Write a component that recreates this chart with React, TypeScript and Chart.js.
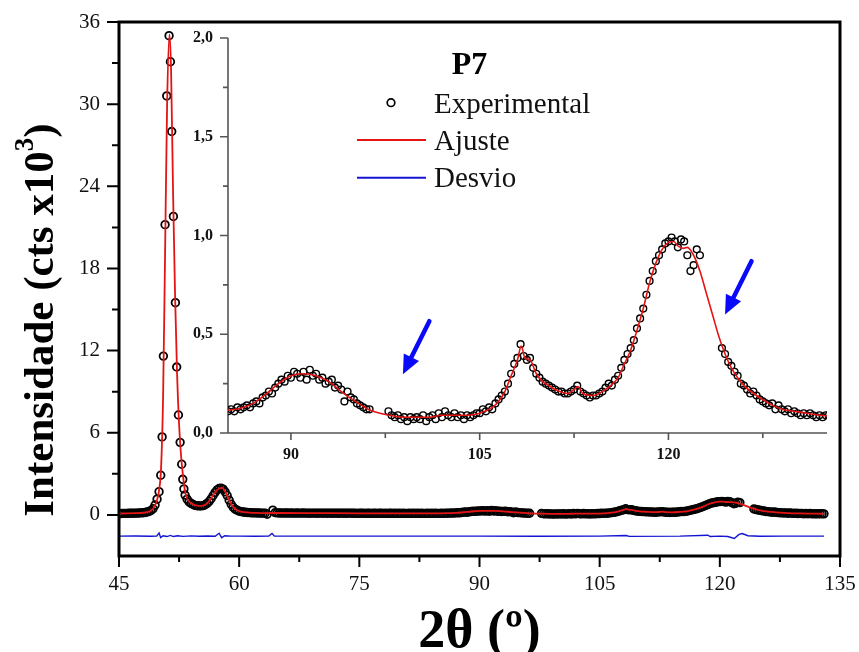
import React, { useEffect, useRef } from 'react';
import { Chart, registerables } from 'chart.js';
Chart.register(...registerables);

const FONT = '"Liberation Serif", "Times New Roman", serif';
const RED = 'rgb(228,20,20)';
const BLUE = 'rgb(20,20,210)';
const ARROW_BLUE = 'rgb(10,10,250)';

// Experimental points: 2θ (deg) and intensity (10^3 cts)
const expX = [
  45, 45.25, 45.5, 45.75, 46, 46.25, 46.5, 46.75, 47, 47.25,
  47.5, 47.75, 48, 48.25, 48.5, 48.75, 49, 49.25, 49.5, 49.75,
  50.0, 50.21, 50.38, 50.54, 50.75, 50.96, 51.25, 51.42, 51.58, 51.79,
  52.04, 52.2, 52.42, 52.63, 52.83, 52.96, 53.1, 53.25, 53.5, 53.75,
  54, 54.25, 54.5, 54.75, 55, 55.25, 55.5, 55.75, 56, 56.25,
  56.5, 56.75, 57, 57.25, 57.5, 57.75, 58, 58.25, 58.5, 58.75,
  59, 59.25, 59.5, 59.75, 60, 60.25, 60.5, 60.75, 61, 61.25,
  61.5, 61.75, 62, 62.25, 62.5, 62.75, 63, 63.25, 63.5, 64.2,
  64.5, 64.75, 65, 65.25, 65.5, 65.75, 66, 66.25, 66.5, 66.75,
  67, 67.25, 67.5, 67.75, 68, 68.25, 68.5, 68.75, 69, 69.25,
  69.5, 69.75, 70, 70.25, 70.5, 70.75, 71, 71.25, 71.5, 71.75,
  72, 72.25, 72.5, 72.75, 73, 73.25, 73.5, 73.75, 74, 74.25,
  74.5, 74.75, 75, 75.25, 75.5, 75.75, 76, 76.25, 76.5, 76.75,
  77, 77.25, 77.5, 77.75, 78, 78.25, 78.5, 78.75, 79, 79.25,
  79.5, 79.75, 80, 80.25, 80.5, 80.75, 81, 81.25, 81.5, 81.75,
  82, 82.25, 82.5, 82.75, 83, 83.25, 83.5, 83.75, 84, 84.25,
  84.5, 84.75, 85, 85.25, 85.5, 85.75, 86, 86.25, 86.5, 86.75,
  87, 87.25, 87.5, 87.75, 88, 88.25, 88.5, 88.75, 89, 89.25,
  89.5, 89.75, 90, 90.25, 90.5, 90.75, 91, 91.25, 91.5, 91.75,
  92, 92.25, 92.5, 92.75, 93, 93.25, 93.5, 93.75, 94, 94.25,
  94.5, 94.75, 95, 95.25, 95.5, 95.75, 96, 96.25, 97.75, 98,
  98.25, 98.5, 98.75, 99, 99.25, 99.5, 99.75, 100, 100.25, 100.5,
  100.75, 101, 101.25, 101.5, 101.75, 102, 102.25, 102.5, 102.75, 103,
  103.25, 103.5, 103.75, 104, 104.25, 104.5, 104.75, 105, 105.25, 105.5,
  105.75, 106, 106.25, 106.5, 106.75, 107, 107.25, 107.5, 107.75, 108,
  108.25, 108.5, 108.75, 109, 109.25, 109.5, 109.75, 110, 110.25, 110.5,
  110.75, 111, 111.25, 111.5, 111.75, 112, 112.25, 112.5, 112.75, 113,
  113.25, 113.5, 113.75, 114, 114.25, 114.5, 114.75, 115, 115.25, 115.5,
  115.75, 116, 116.25, 116.5, 116.75, 117, 117.25, 117.5, 117.75, 118,
  118.25, 118.5, 118.75, 119, 119.25, 119.5, 119.75, 120, 120.25, 120.5,
  120.75, 121, 121.25, 121.5, 121.75, 122, 122.25, 122.5, 124.25, 124.5,
  124.75, 125, 125.25, 125.5, 125.75, 126, 126.25, 126.5, 126.75, 127,
  127.25, 127.5, 127.75, 128, 128.25, 128.5, 128.75, 129, 129.25, 129.5,
  129.75, 130, 130.25, 130.5, 130.75, 131, 131.25, 131.5, 131.75, 132,
  132.25, 132.5, 132.75, 133,
];
const expY = [
  0.10, 0.10, 0.11, 0.11, 0.11, 0.12, 0.12, 0.12, 0.13, 0.13,
  0.14, 0.15, 0.16, 0.18, 0.21, 0.25, 0.32, 0.45, 0.72, 1.15,
  1.7, 2.9, 5.7, 11.6, 21.2, 30.6, 35.0, 33.1, 28.0, 21.8,
  15.5, 10.8, 7.3, 5.3, 3.7, 2.6, 1.9, 1.45, 1.15, 0.95,
  0.84, 0.76, 0.70, 0.67, 0.66, 0.66, 0.68, 0.74, 0.84, 0.98,
  1.18, 1.42, 1.65, 1.83, 1.93, 1.95, 1.88, 1.68, 1.42, 1.08,
  0.78, 0.56, 0.42, 0.34, 0.28, 0.24, 0.21, 0.19, 0.18, 0.17,
  0.16, 0.15, 0.15, 0.14, 0.14, 0.13, 0.13, 0.12, 0.05, 0.35,
  0.17, 0.15, 0.14, 0.14, 0.13, 0.14, 0.14, 0.13, 0.14, 0.13,
  0.13, 0.14, 0.13, 0.13, 0.14, 0.13, 0.13, 0.12, 0.13, 0.13,
  0.13, 0.12, 0.13, 0.13, 0.12, 0.13, 0.12, 0.13, 0.12, 0.12,
  0.13, 0.12, 0.12, 0.13, 0.12, 0.12, 0.12, 0.13, 0.12, 0.12,
  0.12, 0.11, 0.12, 0.12, 0.12, 0.11, 0.12, 0.12, 0.11, 0.12,
  0.12, 0.11, 0.12, 0.12, 0.11, 0.12, 0.11, 0.12, 0.12, 0.11,
  0.12, 0.11, 0.12, 0.11, 0.12, 0.11, 0.11, 0.12, 0.11, 0.12,
  0.11, 0.12, 0.11, 0.12, 0.11, 0.11, 0.12, 0.11, 0.12, 0.11,
  0.12, 0.11, 0.11, 0.12, 0.11, 0.13, 0.12, 0.13, 0.14, 0.13,
  0.15, 0.16, 0.15, 0.18, 0.19, 0.21, 0.20, 0.23, 0.25, 0.27,
  0.26, 0.29, 0.28, 0.31, 0.30, 0.28, 0.31, 0.27, 0.32, 0.29,
  0.30, 0.27, 0.28, 0.25, 0.26, 0.27, 0.23, 0.24, 0.22, 0.16,
  0.21, 0.18, 0.17, 0.15, 0.14, 0.13, 0.12, 0.12, 0.11, 0.09,
  0.08, 0.09, 0.07, 0.08, 0.06, 0.08, 0.07, 0.08, 0.07, 0.09,
  0.06, 0.08, 0.09, 0.07, 0.10, 0.08, 0.11, 0.09, 0.08, 0.10,
  0.08, 0.09, 0.07, 0.09, 0.08, 0.09, 0.10, 0.10, 0.12, 0.11,
  0.13, 0.12, 0.15, 0.17, 0.19, 0.21, 0.25, 0.30, 0.35, 0.38,
  0.45, 0.39, 0.37, 0.38, 0.33, 0.30, 0.28, 0.26, 0.25, 0.24,
  0.23, 0.22, 0.21, 0.21, 0.20, 0.20, 0.21, 0.22, 0.24, 0.21,
  0.20, 0.19, 0.18, 0.19, 0.19, 0.20, 0.21, 0.23, 0.25, 0.24,
  0.27, 0.29, 0.33, 0.37, 0.40, 0.43, 0.47, 0.53, 0.58, 0.63,
  0.70, 0.77, 0.82, 0.87, 0.90, 0.93, 0.96, 0.97, 0.99, 0.97,
  0.94, 0.98, 0.97, 0.90, 0.82, 0.85, 0.93, 0.90, 0.43, 0.40,
  0.36, 0.34, 0.31, 0.29, 0.25, 0.24, 0.22, 0.20, 0.21, 0.19,
  0.17, 0.16, 0.15, 0.14, 0.15, 0.12, 0.14, 0.12, 0.11, 0.12,
  0.10, 0.11, 0.10, 0.09, 0.10, 0.09, 0.10, 0.09, 0.08, 0.09,
  0.08, 0.09, 0.09, 0.08,
];

// Fitted profile (Ajuste)
const fitX = [
  45, 46, 47, 48, 48.5, 49, 49.5, 49.75, 50, 50.25,
  50.5, 50.75, 51, 51.3, 51.5, 51.75, 52, 52.25, 52.5, 52.75,
  53, 53.25, 53.5, 54, 54.5, 55, 55.5, 56, 56.5, 57,
  57.5, 57.9, 58.25, 58.5, 59, 59.5, 60, 61, 62, 63,
  64, 65, 70, 75, 80, 84, 85, 86, 87, 88,
  89, 90, 91, 92, 93, 94, 95, 96, 96.3, 97.8,
  99, 100, 101, 102, 103, 104, 105, 106, 106.5, 107,
  107.5, 108, 108.3, 108.6, 109, 109.5, 110, 110.5, 111, 112,
  112.5, 112.8, 113.2, 114, 115, 115.5, 116, 116.5, 117, 117.5,
  118, 118.5, 119, 119.5, 120, 120.4, 120.8, 121.2, 121.5, 122,
  122.5, 123, 123.5, 124, 124.5, 125, 125.5, 126, 127, 128,
  129, 130, 131, 132, 133,
];
const fitY = [
  0.10, 0.11, 0.13, 0.16, 0.21, 0.31, 0.70, 1.1, 1.8, 3.4,
  8.5, 19.0, 29.8, 35.1, 32.5, 23.5, 16.0, 10.3, 6.6, 4.3,
  2.8, 1.7, 1.2, 0.85, 0.71, 0.66, 0.68, 0.84, 1.2, 1.66,
  1.93, 1.97, 1.70, 1.40, 0.80, 0.43, 0.28, 0.18, 0.15, 0.13,
  0.14, 0.14, 0.13, 0.12, 0.12, 0.11, 0.115, 0.125, 0.15, 0.195,
  0.25, 0.29, 0.30, 0.29, 0.26, 0.21, 0.165, 0.125, 0.115, 0.09,
  0.08, 0.08, 0.08, 0.09, 0.09, 0.09, 0.10, 0.13, 0.16, 0.21,
  0.29, 0.37, 0.44, 0.38, 0.37, 0.30, 0.26, 0.24, 0.22, 0.20,
  0.22, 0.235, 0.20, 0.19, 0.22, 0.245, 0.28, 0.35, 0.42, 0.52,
  0.63, 0.76, 0.86, 0.93, 0.965, 0.97, 0.945, 0.935, 0.94, 0.90,
  0.82, 0.71, 0.60, 0.49, 0.40, 0.33, 0.28, 0.24, 0.19, 0.15,
  0.12, 0.11, 0.10, 0.09, 0.085,
];

// Difference curve (Desvio), offset below zero
const devX = [
  45, 47, 49, 49.7, 50.0, 50.2, 50.5, 51, 51.4, 51.8,
  52.3, 53, 54, 55, 56, 57, 57.5, 57.8, 58.2, 59,
  60, 62, 63.7, 64.1, 64.4, 70, 80, 90, 97, 105,
  108.3, 108.7, 115, 118.5, 118.8, 120, 121, 121.8, 122.4, 122.8,
  123.5, 125, 128, 133,
];
const devY = [
  -1.55, -1.54, -1.56, -1.55, -1.32, -1.66, -1.52, -1.58, -1.50, -1.58,
  -1.52, -1.57, -1.53, -1.56, -1.54, -1.56, -1.34, -1.66, -1.52, -1.55,
  -1.55, -1.56, -1.55, -1.36, -1.55, -1.55, -1.55, -1.55, -1.56, -1.55,
  -1.50, -1.57, -1.55, -1.48, -1.58, -1.55, -1.58, -1.72, -1.42, -1.36,
  -1.52, -1.56, -1.55, -1.55,
];

// Axes ticks
const mainXMajor = [45, 60, 75, 90, 105, 120, 135];
const mainXMinor = [52.5, 67.5, 82.5, 97.5, 112.5, 127.5];
const mainYMajor = [0, 6, 12, 18, 24, 30, 36];
const mainYMinor = [3, 9, 15, 21, 27, 33];
const insetXMajor = [90, 105, 120];
const insetXMinor = [97.5, 112.5, 127.5];
const insetYMajor = [0, 0.5, 1.0, 1.5, 2.0];
const insetYLabels = ['0,0', '0,5', '1,0', '1,5', '2,0'];
const insetYMinor = [0.25, 0.75, 1.25, 1.75];

// Arrows in inset data coordinates: [x, y]
const arrowTails = [[101.0, 0.566], [126.6, 0.87]];
const arrowTips = [[98.9, 0.297], [124.5, 0.6]];

const legendTitle = 'P7';
const legendLabels = ['Experimental', 'Ajuste', 'Desvio'];

function pts(xs: number[], ys: number[], lo = -Infinity, hi = Infinity) {
  const out: { x: number; y: number }[] = [];
  for (let i = 0; i < xs.length; i++) {
    if (xs[i] >= lo && xs[i] <= hi) out.push({ x: xs[i], y: ys[i] });
  }
  return out;
}

const mainPlugin = {
  id: 'mainDecor',
  afterDraw(chart: any) {
    const { ctx, chartArea: a, scales } = chart;
    const xs = scales.x, ys = scales.y;
    ctx.save();
    ctx.strokeStyle = '#000';
    ctx.lineWidth = 3;
    ctx.strokeRect(a.left, a.top, a.right - a.left, a.bottom - a.top);
    ctx.lineWidth = 2;
    ctx.beginPath();
    mainYMajor.forEach((v) => { const p = ys.getPixelForValue(v); ctx.moveTo(a.left - 12, p); ctx.lineTo(a.left, p); });
    mainYMinor.forEach((v) => { const p = ys.getPixelForValue(v); ctx.moveTo(a.left - 7, p); ctx.lineTo(a.left, p); });
    mainXMajor.forEach((v) => { const p = xs.getPixelForValue(v); ctx.moveTo(p, a.bottom); ctx.lineTo(p, a.bottom + 11); });
    mainXMinor.forEach((v) => { const p = xs.getPixelForValue(v); ctx.moveTo(p, a.bottom); ctx.lineTo(p, a.bottom + 6); });
    ctx.stroke();

    ctx.fillStyle = '#111';
    ctx.font = `21px ${FONT}`;
    ctx.textAlign = 'right';
    ctx.textBaseline = 'middle';
    mainYMajor.forEach((v) => ctx.fillText(String(v), a.left - 19, ys.getPixelForValue(v)));
    ctx.textAlign = 'center';
    mainXMajor.forEach((v) => ctx.fillText(String(v), xs.getPixelForValue(v), a.bottom + 28));

    // x title
    ctx.fillStyle = '#000';
    ctx.font = `bold 54px ${FONT}`;
    ctx.textBaseline = 'alphabetic';
    ctx.fillText('2θ (º)', (a.left + a.right) / 2, 647);

    // y title with superscript
    ctx.save();
    ctx.translate(53, 320);
    ctx.rotate(-Math.PI / 2);
    const big = `bold 43px ${FONT}`;
    const sup = `bold 27px ${FONT}`;
    const t1 = 'Intensidade (cts x10', t2 = '3', t3 = ')';
    ctx.font = big; const w1 = ctx.measureText(t1).width; const w3 = ctx.measureText(t3).width;
    ctx.font = sup; const w2 = ctx.measureText(t2).width;
    const start = -(w1 + w2 + w3) / 2;
    ctx.textAlign = 'left';
    ctx.font = big; ctx.fillText(t1, start, 0);
    ctx.font = sup; ctx.fillText(t2, start + w1, -20);
    ctx.font = big; ctx.fillText(t3, start + w1 + w2, 0);
    ctx.restore();

    // legend
    ctx.textAlign = 'center';
    ctx.font = `bold 32px ${FONT}`;
    ctx.fillText(legendTitle, 469.5, 74);
    ctx.textAlign = 'left';
    ctx.font = `29px ${FONT}`;
    ctx.fillStyle = '#111';
    ctx.fillText(legendLabels[0], 434, 112.5);
    ctx.fillText(legendLabels[1], 434, 149.5);
    ctx.fillText(legendLabels[2], 434, 187);
    ctx.lineWidth = 1.7;
    ctx.strokeStyle = '#000';
    ctx.beginPath(); ctx.arc(391, 102.7, 3.8, 0, Math.PI * 2); ctx.stroke();
    ctx.lineWidth = 2;
    ctx.strokeStyle = RED;
    ctx.beginPath(); ctx.moveTo(357, 140); ctx.lineTo(426, 140); ctx.stroke();
    ctx.strokeStyle = BLUE;
    ctx.beginPath(); ctx.moveTo(357, 177.7); ctx.lineTo(426, 177.7); ctx.stroke();
    ctx.restore();
  },
};

const insetPlugin = {
  id: 'insetDecor',
  beforeDatasetsDraw(chart: any) {
    const { ctx, chartArea: a, scales } = chart;
    const xs = scales.x, ys = scales.y;
    ctx.save();
    ctx.strokeStyle = '#555';
    ctx.lineWidth = 1.6;
    ctx.beginPath();
    ctx.moveTo(a.left, a.top); ctx.lineTo(a.left, a.bottom); ctx.lineTo(a.right, a.bottom);
    insetYMajor.forEach((v) => { const p = ys.getPixelForValue(v); ctx.moveTo(a.left - 8, p); ctx.lineTo(a.left, p); });
    insetYMinor.forEach((v) => { const p = ys.getPixelForValue(v); ctx.moveTo(a.left - 5, p); ctx.lineTo(a.left, p); });
    insetXMajor.forEach((v) => { const p = xs.getPixelForValue(v); ctx.moveTo(p, a.bottom); ctx.lineTo(p, a.bottom + 7); });
    insetXMinor.forEach((v) => { const p = xs.getPixelForValue(v); ctx.moveTo(p, a.bottom); ctx.lineTo(p, a.bottom + 5); });
    ctx.stroke();
    ctx.fillStyle = '#111';
    ctx.font = `bold 16px ${FONT}`;
    ctx.textAlign = 'right';
    ctx.textBaseline = 'middle';
    insetYMajor.forEach((v, i) => ctx.fillText(insetYLabels[i], a.left - 15, ys.getPixelForValue(v)));
    ctx.textAlign = 'center';
    insetXMajor.forEach((v) => ctx.fillText(String(v), xs.getPixelForValue(v), a.bottom + 22));
    ctx.restore();
  },
  afterDatasetsDraw(chart: any) {
    const { ctx, scales } = chart;
    const xs = scales.x, ys = scales.y;
    ctx.save();
    ctx.fillStyle = ARROW_BLUE;
    ctx.strokeStyle = ARROW_BLUE;
    arrowTails.forEach((t, i) => {
      const x0 = xs.getPixelForValue(t[0]), y0 = ys.getPixelForValue(t[1]);
      const x1 = xs.getPixelForValue(arrowTips[i][0]), y1 = ys.getPixelForValue(arrowTips[i][1]);
      const dx = x1 - x0, dy = y1 - y0; const L = Math.hypot(dx, dy);
      const ux = dx / L, uy = dy / L; const nx = -uy, ny = ux;
      const hl = 19, hw = 8.5;
      const bx = x1 - ux * hl, by = y1 - uy * hl;
      ctx.lineWidth = 4.5;
      ctx.lineCap = 'round';
      ctx.beginPath(); ctx.moveTo(x0, y0); ctx.lineTo(bx + ux * 2, by + uy * 2); ctx.stroke();
      ctx.beginPath();
      ctx.moveTo(x1, y1);
      ctx.lineTo(bx + nx * hw, by + ny * hw);
      ctx.lineTo(bx - nx * hw, by - ny * hw);
      ctx.closePath(); ctx.fill();
    });
    ctx.restore();
  },
};

export default function App() {
  const mainRef = useRef<HTMLCanvasElement>(null);
  const insetRef = useRef<HTMLCanvasElement>(null);

  useEffect(() => {
    const hiddenScale = (min: number, max: number) => ({
      type: 'linear', min, max, display: false,
    });
    const main = new Chart(mainRef.current as HTMLCanvasElement, {
      type: 'scatter',
      data: {
        datasets: [
          { label: 'Ajuste', data: pts(fitX, fitY), showLine: true, borderColor: RED, borderWidth: 1.8, pointRadius: 0, cubicInterpolationMode: 'monotone', order: 0 } as any,
          { label: 'Experimental', data: pts(expX, expY), showLine: false, pointRadius: 3.8, pointBorderWidth: 1.8, pointBorderColor: '#000', pointBackgroundColor: 'rgba(0,0,0,0)', order: 1 },
          { label: 'Desvio', data: pts(devX, devY), showLine: true, borderColor: BLUE, borderWidth: 1.4, pointRadius: 0, order: 2 },
        ],
      },
      options: {
        responsive: false,
        animation: false,
        events: [],
        layout: { autoPadding: false, padding: { left: 119, right: 19, top: 22, bottom: 96 } },
        plugins: { legend: { display: false }, tooltip: { enabled: false } },
        scales: { x: hiddenScale(45, 135), y: hiddenScale(-3, 36) } as any,
      },
      plugins: [mainPlugin],
    });
    const inset = new Chart(insetRef.current as HTMLCanvasElement, {
      type: 'scatter',
      data: {
        datasets: [
          { label: 'Ajuste', data: pts(fitX, fitY, 84, 134), showLine: true, borderColor: RED, borderWidth: 1.6, pointRadius: 0, cubicInterpolationMode: 'monotone', order: 0 } as any,
          { label: 'Experimental', data: pts(expX, expY, 84.9, 134), showLine: false, pointRadius: 3.4, pointBorderWidth: 1.4, pointBorderColor: '#000', pointBackgroundColor: 'rgba(0,0,0,0)', order: 1 },
        ],
      },
      options: {
        responsive: false,
        animation: false,
        events: [],
        layout: { autoPadding: false, padding: { left: 228, right: 32, top: 38, bottom: 219 } },
        plugins: { legend: { display: false }, tooltip: { enabled: false } },
        scales: { x: hiddenScale(85, 132.6), y: hiddenScale(0, 2.0) } as any,
      },
      plugins: [insetPlugin],
    });
    return () => { main.destroy(); inset.destroy(); };
  }, []);

  const cs: React.CSSProperties = { position: 'absolute', left: 0, top: 0, width: 859, height: 652 };
  return (
    <div style={{ position: 'absolute', left: 0, top: 0, width: 859, height: 652, background: '#fff' }}>
      <canvas ref={mainRef} width={859} height={652} style={cs} />
      <canvas ref={insetRef} width={859} height={652} style={cs} />
    </div>
  );
}
